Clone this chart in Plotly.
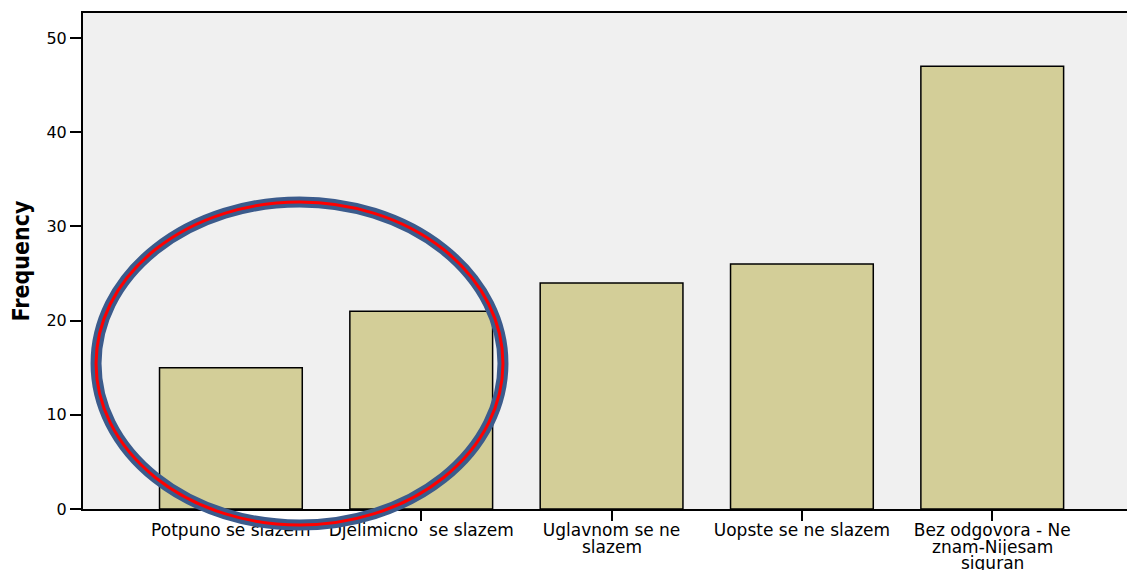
import plotly.graph_objects as go

# Category labels: first line on the axis tick, further lines below it
label_lines = [
    ["Potpuno se slazem"],
    ["Djelimicno&nbsp;&nbsp;se slazem"],
    ["Uglavnom se ne", "slazem"],
    ["Uopste se ne slazem"],
    ["Bez odgovora - Ne", "znam-Nijesam", "siguran"],
]
frequencies = [15, 21, 24, 26, 47]
y_ticks = [0, 10, 20, 30, 40, 50]

positions = list(range(len(label_lines)))

fig = go.Figure()
fig.add_trace(go.Bar(
    x=positions, y=frequencies, width=0.75,
    marker=dict(color="#D3CE98", line=dict(color="black", width=1.5)),
    hoverinfo="skip",
))

font_family = "DejaVu Sans, Verdana, sans-serif"
# page body has an 8px default offset; margins compensate so the plot area lands at x 83-1135, y 13-509
fig.update_layout(
    width=1135, height=570,
    margin=dict(l=75, r=8, t=5, b=69),
    paper_bgcolor="white", plot_bgcolor="#F0F0F0",
    showlegend=False,
    font=dict(family=font_family, size=16, color="black"),
    xaxis=dict(
        range=[-0.777, 4.75], tickmode="array", tickvals=positions,
        ticktext=[lines[0] for lines in label_lines],
        ticks="outside", ticklen=10, tickwidth=2, tickcolor="black",
        ticklabelstandoff=-5,
        showline=True, linecolor="black", linewidth=2, mirror=True,
        showgrid=False, zeroline=False, tickangle=0, automargin=False,
        tickfont=dict(size=17, family=font_family),
    ),
    yaxis=dict(
        range=[0, 52.65], tickmode="array", tickvals=y_ticks,
        ticks="outside", ticklen=11, tickwidth=2, tickcolor="black",
        showline=True, linecolor="black", linewidth=2,
        showgrid=False, zeroline=False, automargin=False,
        tickfont=dict(size=16, family=font_family),
        title=dict(text="<b>Frequency</b>", standoff=20,
                   font=dict(size=23, family="DejaVu Sans Condensed, DejaVu Sans, sans-serif")),
    ),
)

# Continuation lines of the wrapped category labels
line_y = [None, -0.0766, -0.1089]
for pos, lines in zip(positions, label_lines):
    for i, txt in enumerate(lines[1:], start=1):
        fig.add_annotation(x=pos, y=line_y[i], xref="x", yref="paper", text=txt,
                           showarrow=False, xanchor="center", yanchor="middle",
                           height=16, borderpad=0,
                           font=dict(size=17, family=font_family, color="black"))

# Highlight ellipse (blue ring with red inner line)
ell = dict(type="circle", xref="paper", yref="paper",
           x0=0.0124, x1=0.3992, y0=-0.0323, y1=0.619, layer="above")
fig.add_shape(**ell, line=dict(color="#3B5B8C", width=11))
fig.add_shape(**ell, line=dict(color="#FF0000", width=3))

fig.write_html("out.html")
